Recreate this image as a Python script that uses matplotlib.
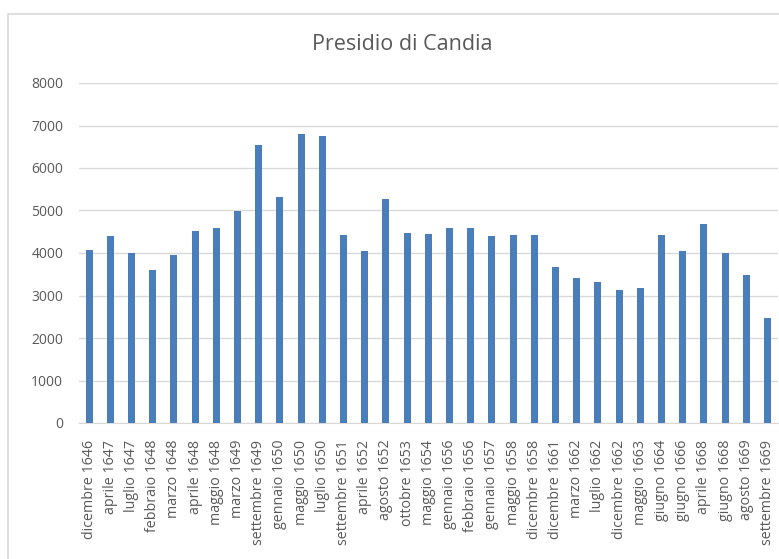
# Presidio di Candia - bar chart

import numpy as np
import matplotlib.pyplot as plt
from matplotlib.patches import Rectangle

# Data
labels = ['dicembre 1646', 'aprile 1647', 'luglio 1647', 'febbraio 1648', 'marzo 1648',
          'aprile 1648', 'maggio 1648', 'marzo 1649', 'settembre 1649', 'gennaio 1650',
          'maggio 1650', 'luglio 1650', 'settembre 1651', 'aprile 1652', 'agosto 1652',
          'ottobre 1653', 'maggio 1654', 'gennaio 1656', 'febbraio 1656', 'gennaio 1657',
          'maggio 1658', 'dicembre 1658', 'dicembre 1661', 'marzo 1662', 'luglio 1662',
          'dicembre 1662', 'maggio 1663', 'giugno 1664', 'giugno 1666', 'aprile 1668',
          'giugno 1668', 'agosto 1669', 'settembre 1669']
values = [4080, 4400, 3990, 3590, 3960,
          4520, 4590, 4990, 6550, 5320,
          6790, 6750, 4430, 4040, 5270,
          4470, 4440, 4580, 4580, 4390,
          4430, 4430, 3680, 3410, 3320,
          3140, 3170, 4420, 4050, 4690,
          3990, 3490, 2470]
y_ticks = [0, 1000, 2000, 3000, 4000, 5000, 6000, 7000, 8000]

text_color = '#595959'
plt.rcParams['font.family'] = ['Open Sans', 'DejaVu Sans']

fig = plt.figure(figsize=(7.79, 5.59), dpi=100)

# Chart area border (cropped on right and bottom)
fig.patches.append(Rectangle((8 / 779, -0.1), 1.2, 1 - 14 / 559 + 0.1,
                             transform=fig.transFigure, fill=False,
                             edgecolor='#d9d9d9', linewidth=1.2))

ax = fig.add_axes([78.5 / 779, 1 - 423 / 559, (778 - 78.5) / 779, (423 - 83) / 559])
x = np.arange(len(labels))
ax.bar(x, values, width=0.33, color='#4a7ebb', zorder=3)

ax.set_xlim(-0.5, len(labels) - 0.5)
ax.set_ylim(0, 8000)
ax.set_yticks(y_ticks)
ax.set_xticks(x)
ax.set_xticklabels(labels, rotation=90, fontsize=10.3, color=text_color)
ax.tick_params(axis='y', labelsize=10, labelcolor=text_color, length=0, pad=11)
ax.tick_params(axis='x', length=0, pad=12)
ax.grid(axis='y', color='#d9d9d9', linewidth=1, zorder=0)
for side in ['top', 'right', 'left']:
    ax.spines[side].set_visible(False)
ax.spines['bottom'].set_color('#d9d9d9')

fig.text(402 / 779, 1 - 44 / 559, 'Presidio di Candia', ha='center', va='center',
         fontsize=15.5, color=text_color)

plt.savefig('out.png', dpi=100)
